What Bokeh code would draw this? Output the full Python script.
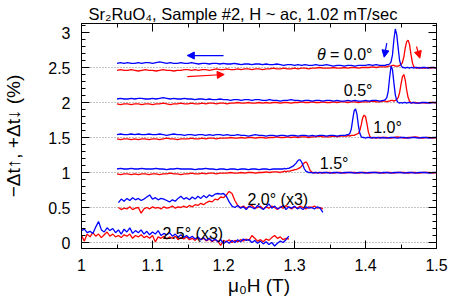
import numpy as np
from bokeh.plotting import figure
from bokeh.models import (Range1d, LinearAxis, FixedTicker, Label, Arrow,
                          NormalHead, PrintfTickFormatter, Title)
from bokeh.embed import file_html
from bokeh.resources import INLINE

# ---------------- data ----------------
# field sweep grids (T)
X00 = np.round(np.concatenate([np.arange(1.050, 1.4251, 0.005), np.arange(1.428, 1.4721, 0.002), np.arange(1.476, 1.5001, 0.004)]), 4)
X05 = np.round(np.concatenate([np.arange(1.050, 1.4251, 0.005), np.arange(1.426, 1.4701, 0.002), np.arange(1.475, 1.5001, 0.005)]), 4)
X10 = np.round(np.concatenate([np.arange(1.050, 1.3701, 0.005), np.arange(1.372, 1.4201, 0.002), np.arange(1.425, 1.5001, 0.005)]), 4)
X15 = np.round(np.concatenate([np.arange(1.050, 1.2801, 0.005), np.arange(1.282, 1.3401, 0.002), np.arange(1.345, 1.5001, 0.005)]), 4)
X20 = np.round(np.arange(1.052, 1.3401, 0.004), 4)
X25 = np.round(np.arange(1.000, 1.2921, 0.004), 4)

# theta = 0.0 deg (offset 2.5)
B00 = [2.56, 2.57, 2.56, 2.57, 2.56, 2.56, 2.57, 2.56, 2.57, 2.57,
       2.56, 2.57, 2.58, 2.57, 2.56, 2.57, 2.56, 2.56, 2.57, 2.56,
       2.56, 2.57, 2.56, 2.55, 2.56, 2.56, 2.55, 2.56, 2.56, 2.55,
       2.56, 2.55, 2.55, 2.56, 2.55, 2.54, 2.55, 2.55, 2.54, 2.55,
       2.55, 2.54, 2.55, 2.54, 2.54, 2.55, 2.54, 2.53, 2.54, 2.54,
       2.53, 2.54, 2.53, 2.54, 2.53, 2.53, 2.54, 2.53, 2.53, 2.54,
       2.53, 2.52, 2.53, 2.53, 2.52, 2.53, 2.53, 2.52, 2.53, 2.53,
       2.53, 2.54, 2.53, 2.54, 2.53, 2.53,
       2.53, 2.54, 2.54, 2.55, 2.58, 2.68, 2.90, 3.05, 2.97, 2.78,
       2.60, 2.53, 2.50, 2.50, 2.49, 2.50, 2.50, 2.49, 2.50, 2.50,
       2.49, 2.50, 2.50,
       2.49, 2.50, 2.50, 2.49, 2.50, 2.50, 2.49]
R00 = [2.46, 2.47, 2.46, 2.46, 2.47, 2.46, 2.45, 2.46, 2.47, 2.46,
       2.46, 2.45, 2.46, 2.47, 2.46, 2.46, 2.45, 2.46, 2.46, 2.47,
       2.47, 2.46, 2.47, 2.46, 2.47, 2.47, 2.46, 2.47, 2.48, 2.47,
       2.47, 2.48, 2.47, 2.47, 2.48, 2.47, 2.48, 2.48, 2.47, 2.48,
       2.48, 2.47, 2.48, 2.48, 2.49, 2.48, 2.48, 2.49, 2.48, 2.48,
       2.49, 2.48, 2.49, 2.49, 2.48, 2.49, 2.49, 2.50, 2.49, 2.49,
       2.49, 2.50, 2.49, 2.49, 2.50, 2.49, 2.50, 2.50, 2.49, 2.50,
       2.50, 2.50, 2.51, 2.50, 2.51, 2.51,
       2.51, 2.51, 2.52, 2.52, 2.52, 2.53, 2.53, 2.52, 2.52, 2.52,
       2.53, 2.54, 2.57, 2.65, 2.78, 2.87, 2.89, 2.83, 2.69, 2.57,
       2.51, 2.50, 2.49,
       2.50, 2.49, 2.49, 2.50, 2.49, 2.50, 2.49]

# theta = 0.5 deg (offset 2.0)
B05 = [2.05, 2.06, 2.05, 2.05, 2.06, 2.05, 2.06, 2.06, 2.05, 2.05,
       2.06, 2.05, 2.06, 2.07, 2.06, 2.05, 2.06, 2.05, 2.05, 2.06,
       2.05, 2.05, 2.04, 2.05, 2.05, 2.04, 2.05, 2.04, 2.04, 2.05,
       2.04, 2.04, 2.03, 2.04, 2.04, 2.03, 2.04, 2.04, 2.03, 2.04,
       2.04, 2.03, 2.03, 2.04, 2.03, 2.03, 2.02, 2.03, 2.03, 2.04,
       2.03, 2.03, 2.02, 2.03, 2.03, 2.02, 2.03, 2.03, 2.02, 2.03,
       2.03, 2.02, 2.03, 2.02, 2.02, 2.03, 2.02, 2.03, 2.02, 2.02,
       2.03, 2.02, 2.03, 2.03, 2.02, 2.03,
       2.03, 2.04, 2.07, 2.16, 2.36, 2.52, 2.47, 2.28, 2.11, 2.03,
       2.00, 1.99, 2.00, 1.99, 2.00, 2.00, 1.99, 2.00, 2.00, 1.99,
       2.00, 2.00, 1.99,
       1.99, 2.00, 2.00, 1.99, 2.00, 2.00]
R05 = [1.98, 1.97, 1.98, 1.98, 1.97, 1.98, 1.98, 1.97, 1.98, 1.98,
       1.97, 1.98, 1.98, 1.99, 1.98, 1.97, 1.98, 1.98, 1.99, 1.98,
       1.98, 1.99, 1.98, 1.98, 1.99, 1.98, 1.99, 1.99, 1.98, 1.99,
       1.99, 1.98, 1.99, 1.99, 2.00, 1.99, 1.99, 2.00, 1.99, 1.99,
       2.00, 1.99, 2.00, 1.99, 2.00, 2.00, 1.99, 2.00, 2.00, 1.99,
       2.00, 2.00, 2.01, 2.00, 2.00, 2.01, 2.00, 2.00, 2.01, 2.00,
       2.00, 2.01, 2.00, 2.01, 2.01, 2.00, 2.01, 2.01, 2.00, 2.01,
       2.01, 2.01, 2.02, 2.01, 2.01, 2.02,
       2.02, 2.02, 2.01, 2.02, 2.02, 2.03, 2.03, 2.02, 2.03, 2.04,
       2.07, 2.14, 2.26, 2.37, 2.40, 2.32, 2.18, 2.07, 2.02, 2.00,
       1.99, 2.00, 2.00,
       1.99, 2.00, 1.99, 2.00, 2.00, 1.99]

# theta = 1.0 deg (offset 1.5)
B10 = [1.54, 1.55, 1.54, 1.54, 1.55, 1.54, 1.55, 1.54, 1.54, 1.55,
       1.54, 1.54, 1.55, 1.54, 1.53, 1.54, 1.55, 1.54, 1.54, 1.53,
       1.54, 1.54, 1.53, 1.54, 1.54, 1.53, 1.54, 1.53, 1.54, 1.54,
       1.53, 1.54, 1.53, 1.53, 1.54, 1.53, 1.53, 1.52, 1.53, 1.54,
       1.53, 1.53, 1.52, 1.53, 1.53, 1.52, 1.53, 1.53, 1.52, 1.53,
       1.53, 1.52, 1.53, 1.53, 1.52, 1.53, 1.52, 1.53, 1.53, 1.52,
       1.53, 1.53, 1.52, 1.53, 1.53,
       1.53, 1.54, 1.54, 1.56, 1.62, 1.76, 1.88, 1.91, 1.83, 1.67,
       1.56, 1.51, 1.50, 1.50, 1.49, 1.50, 1.50, 1.50, 1.49, 1.50,
       1.50, 1.49, 1.50, 1.50, 1.49,
       1.50, 1.49, 1.50, 1.50, 1.49, 1.50, 1.50, 1.49,
       1.50, 1.50, 1.49, 1.50, 1.50, 1.49, 1.50, 1.50]
R10 = [1.48, 1.47, 1.48, 1.48, 1.47, 1.48, 1.47, 1.48, 1.48, 1.47,
       1.48, 1.48, 1.47, 1.48, 1.49, 1.48, 1.48, 1.47, 1.48, 1.48,
       1.48, 1.49, 1.48, 1.48, 1.49, 1.48, 1.49, 1.49, 1.48, 1.49,
       1.49, 1.49, 1.50, 1.49, 1.49, 1.50, 1.49, 1.50, 1.50, 1.49,
       1.50, 1.50, 1.49, 1.50, 1.50, 1.51, 1.50, 1.50, 1.51, 1.50,
       1.51, 1.50, 1.51, 1.51, 1.50, 1.51, 1.51, 1.52, 1.51, 1.51,
       1.51, 1.52, 1.51, 1.52, 1.52,
       1.52, 1.52, 1.53, 1.52, 1.53, 1.53, 1.53, 1.54, 1.55, 1.56,
       1.60, 1.68, 1.78, 1.82, 1.80, 1.70, 1.58, 1.52, 1.50, 1.49,
       1.50, 1.50, 1.49, 1.50, 1.50,
       1.50, 1.50, 1.49, 1.50, 1.51, 1.50, 1.49, 1.50,
       1.50, 1.51, 1.50, 1.49, 1.50, 1.50, 1.49, 1.50]

# theta = 1.5 deg (offset 1.0)
B15 = [1.05, 1.06, 1.05, 1.05, 1.06, 1.05, 1.05, 1.06, 1.05, 1.05,
       1.05, 1.06, 1.05, 1.05, 1.04, 1.05, 1.05, 1.06, 1.05, 1.05,
       1.05, 1.05, 1.04, 1.05, 1.05, 1.06, 1.05, 1.05, 1.04, 1.05,
       1.05, 1.04, 1.05, 1.05, 1.04, 1.05, 1.05, 1.04, 1.05, 1.05,
       1.04, 1.05, 1.05, 1.04, 1.05, 1.05, 1.05,
       1.05, 1.05, 1.06, 1.05, 1.06, 1.06, 1.07, 1.08, 1.09, 1.11,
       1.13, 1.16, 1.18, 1.18, 1.15, 1.10, 1.05, 1.02, 1.01, 1.00,
       1.00, 1.00, 0.99, 1.00, 1.00, 0.99, 1.00, 1.00, 0.99, 1.00,
       1.00, 0.99, 1.00, 1.00, 0.99, 1.00, 1.00, 1.00,
       0.99, 1.00, 1.00, 0.99, 1.00, 1.00, 1.00, 0.99,
       1.00, 1.00, 0.99, 1.00, 1.00, 1.00, 0.99, 1.00,
       1.00, 0.99, 1.00, 1.00, 1.00, 0.99, 1.00, 1.00]
R15 = [0.98, 0.97, 0.98, 0.98, 0.97, 0.98, 0.97, 0.98, 0.98, 0.97,
       0.98, 0.98, 0.97, 0.98, 0.98, 0.99, 0.98, 0.98, 0.97, 0.98,
       0.98, 0.99, 0.98, 0.98, 0.99, 0.98, 0.99, 0.99, 0.98, 0.99,
       0.99, 0.99, 1.00, 0.99, 0.99, 1.00, 0.99, 1.00, 1.00, 0.99,
       1.00, 1.00, 1.01, 1.00, 1.01, 1.01, 1.00,
       1.01, 1.01, 1.02, 1.01, 1.02, 1.02, 1.02, 1.03, 1.03, 1.04,
       1.04, 1.05, 1.06, 1.07, 1.09, 1.12, 1.14, 1.15, 1.13, 1.08,
       1.03, 1.01, 1.00, 0.99, 1.00, 1.00, 0.99, 1.00, 1.00, 0.99,
       1.00, 1.00, 0.99, 1.00, 1.00, 0.99, 1.00, 1.00,
       1.00, 0.99, 1.00, 1.00, 0.99, 1.00, 1.00, 1.00,
       0.99, 1.00, 1.00, 0.99, 1.00, 1.00, 1.00, 0.99,
       1.00, 1.00, 0.99, 1.00, 1.00, 1.00, 0.99, 1.00]

# theta = 2.0 deg, x3 (offset 0.5)
B20 = [0.57, 0.62, 0.59, 0.63, 0.60, 0.64, 0.61, 0.63, 0.60, 0.62,
       0.65, 0.68, 0.62, 0.64, 0.61, 0.63, 0.62, 0.60, 0.58, 0.61,
       0.59, 0.63, 0.66, 0.62, 0.64, 0.61, 0.65, 0.62, 0.66, 0.63,
       0.67, 0.64, 0.68, 0.66, 0.69, 0.70, 0.69, 0.70, 0.66, 0.58,
       0.52, 0.50, 0.53, 0.49, 0.51, 0.47, 0.52, 0.50, 0.48, 0.53,
       0.50, 0.47, 0.51, 0.55, 0.49, 0.52, 0.48, 0.50, 0.53, 0.47,
       0.51, 0.49, 0.52, 0.48, 0.50, 0.47, 0.51, 0.49, 0.50, 0.48,
       0.51, 0.49, 0.43]
R20 = [0.50, 0.47, 0.49, 0.48, 0.51, 0.47, 0.49, 0.50, 0.42, 0.48,
       0.50, 0.48, 0.51, 0.49, 0.50, 0.48, 0.51, 0.49, 0.50, 0.52,
       0.49, 0.51, 0.50, 0.52, 0.50, 0.53, 0.51, 0.54, 0.53, 0.56,
       0.54, 0.57, 0.59, 0.58, 0.62, 0.61, 0.65, 0.64, 0.68, 0.73,
       0.70, 0.60, 0.53, 0.50, 0.52, 0.49, 0.51, 0.53, 0.49, 0.50,
       0.52, 0.48, 0.51, 0.49, 0.52, 0.50, 0.47, 0.51, 0.49, 0.53,
       0.50, 0.48, 0.51, 0.49, 0.52, 0.50, 0.48, 0.51, 0.50, 0.52,
       0.49, 0.50, 0.48]

# theta = 2.5 deg, x3 (offset 0)
B25 = [0.17, 0.19, 0.14, 0.16, 0.13, 0.22, 0.30, 0.18, 0.15, 0.21,
       0.17, 0.20, 0.14, 0.18, 0.12, 0.19, 0.15, 0.21, 0.13, 0.17,
       0.14, 0.18, 0.12, 0.16, 0.11, 0.15, 0.12, 0.17, 0.10, 0.13,
       0.11, 0.14, 0.09, 0.12, 0.08, 0.11, 0.07, 0.10, 0.06, 0.09,
       0.05, 0.08, 0.04, 0.07, 0.03, 0.06, 0.02, 0.05, 0.01, 0.04,
       -0.02, 0.02, -0.01, 0.03, 0.00, 0.04, 0.01, 0.05, 0.03, 0.04,
       0.00, 0.03, -0.01, 0.02, -0.02, 0.01, -0.03, 0.00, -0.05, -0.01,
       0.02, 0.00, 0.04, 0.09]
R25 = [0.10, 0.02, 0.12, 0.08, 0.14, 0.09, 0.12, 0.07, 0.11, 0.15,
       0.09, 0.12, 0.08, 0.10, 0.07, 0.11, 0.09, 0.12, 0.06, 0.10,
       0.08, 0.11, 0.07, 0.09, 0.06, 0.10, 0.01, 0.08, 0.06, 0.09,
       0.05, 0.08, 0.06, 0.09, 0.04, 0.07, 0.05, 0.08, 0.04, 0.06,
       0.03, 0.07, 0.04, 0.06, 0.02, 0.05, 0.01, 0.04, 0.02, -0.04,
       0.03, 0.01, 0.04, 0.00, 0.03, 0.01, 0.04, 0.02, 0.05, 0.03,
       0.10, 0.06, 0.02, 0.04, 0.01, 0.05, 0.03, 0.07, 0.10, 0.06,
       0.08, 0.04, 0.06, 0.05]

CURVES = [(X00, R00, B00), (X05, R05, B05), (X10, R10, B10),
          (X15, R15, B15), (X20, R20, B20), (X25, R25, B25)]

X_TICKS = [1.0, 1.1, 1.2, 1.3, 1.4, 1.5]
X_MINOR = [1.05, 1.15, 1.25, 1.35, 1.45]
Y_TICKS = [0, 0.5, 1, 1.5, 2, 2.5, 3]
GUIDE_LEVELS = [0, 0.5, 1, 1.5, 2, 2.5]

TITLE_TEXT = "Sr\u2082RuO\u2084, Sample #2, H ~ ac, 1.02 mT/sec"
X_LABEL = "\u03bc\u2080H (T)"
Y_LABEL = "\u2212\u0394t\u2191, +\u0394t\u2193 (%)"

# sweep-direction arrows (data units): x0, y0, x1, y1, colour
ARROWS = [(1.200, 2.671, 1.149, 2.671, "blue"),
          (1.149, 2.371, 1.201, 2.400, "red"),
          (1.430, 2.847, 1.4263, 2.647, "blue"),
          (1.4718, 2.800, 1.4765, 2.633, "red")]

BLUE = "#0000ff"
RED = "#ff0000"
FONT = "Liberation Sans"

# ---------------- figure ----------------
# frame occupies picture pixels x 79..434, y 23..248
Y_RANGE = ((242 - 248) / 70.0, (242 - 23) / 70.0)
p = figure(frame_width=355, frame_height=225, title=None,
           output_backend="svg", toolbar_location=None,
           x_range=Range1d(1.0, 1.5), y_range=Range1d(*Y_RANGE),
           min_border_left=79, min_border_right=26, min_border_top=23,
           min_border_bottom=54, background_fill_color="white",
           border_fill_color="white")

p.outline_line_color = "black"
p.outline_line_width = 1
p.xgrid.visible = False
p.ygrid.ticker = FixedTicker(ticks=GUIDE_LEVELS)
p.ygrid.grid_line_color = "#888888"
p.ygrid.grid_line_dash = "1 2"
p.ygrid.grid_line_width = 1

y_minor = [round(v, 2) for v in np.arange(0.0, 3.11, 0.1) if round(v * 10) % 5 != 0]
xt = FixedTicker(ticks=X_TICKS, minor_ticks=X_MINOR)
yt = FixedTicker(ticks=Y_TICKS, minor_ticks=y_minor)


def style_axis(ax, show_labels):
    ax.axis_line_color = "black"
    ax.major_tick_line_color = "black"
    ax.minor_tick_line_color = "black"
    ax.major_tick_in = 8
    ax.major_tick_out = 0
    ax.minor_tick_in = 4
    ax.minor_tick_out = 0
    ax.formatter = PrintfTickFormatter(format="%g")
    if show_labels:
        ax.major_label_text_font = FONT
        ax.major_label_text_font_size = "16px"
        ax.major_label_text_color = "black"
        ax.axis_label_text_font = FONT
        ax.axis_label_text_font_size = "19px"
        ax.axis_label_text_font_style = "normal"
        ax.axis_label_text_color = "black"
    else:
        ax.major_label_text_font_size = "1px"
        ax.major_label_text_color = None
        ax.major_label_standoff = 0


p.xaxis.ticker = xt
p.yaxis.ticker = yt
style_axis(p.xaxis[0], True)
style_axis(p.yaxis[0], True)
p.xaxis.major_label_standoff = 10
p.yaxis.major_label_standoff = 11
p.xaxis.axis_label = X_LABEL
p.xaxis.axis_label_standoff = 1
p.yaxis.axis_label = Y_LABEL
p.yaxis.axis_label_standoff = 21

top = LinearAxis(ticker=xt)
style_axis(top, False)
p.add_layout(top, "above")
right = LinearAxis(ticker=yt)
style_axis(right, False)
p.add_layout(right, "right")

p.add_layout(Title(text=TITLE_TEXT, align="left", offset=7, standoff=1,
                   text_font=FONT, text_font_size="16.5px",
                   text_font_style="normal", text_color="black"), "above")

for xs, rs, bs in CURVES:
    assert len(xs) == len(rs) == len(bs), (len(xs), len(rs), len(bs))
    p.line(xs, rs, line_color=RED, line_width=1.3)
    p.line(xs, bs, line_color=BLUE, line_width=1.3)

for x0, y0, x1, y1, c in ARROWS:
    col = BLUE if c == "blue" else RED
    p.add_layout(Arrow(x_start=x0, y_start=y0, x_end=x1, y_end=y1,
                       line_color=col, line_width=1.2,
                       end=NormalHead(size=7, fill_color=col, line_color=col, line_width=1)))

# ---------------- in-frame annotations ----------------
WID = {' ': 278, '=': 584, '.': 278, '°': 400, 'θ': 556}


def tw(s, size):
    return sum(WID.get(ch, 556) for ch in s) * size / 1000.0


def X(px):  # picture px -> data x
    return 1.0 + (px - 79) / 710.0


def Y(py):  # picture px -> data y
    return (242 - py) / 70.0


def lab(x, y, txt, size, style="normal", align="left"):
    p.add_layout(Label(x=x, y=y, text=txt, text_font=FONT,
                       text_font_size=f"{size}px", text_font_style=style,
                       text_color="black", text_align=align,
                       text_baseline="alphabetic"))


rest0 = " = 0.0°"
lab(X(370), Y(54.3), rest0.strip(), 16, align="right")
lab(X(370 - tw(rest0, 16)), Y(54.3), "θ", 16, "italic", align="right")
lab(X(370), Y(90), "0.5°", 16, align="right")
lab(X(370.7), Y(126.7), "1.0°", 16)
lab(X(317.3), Y(162.7), "1.5°", 16)
lab(X(245), Y(198.5), "2.0° (x3)", 16)
lab(X(160), Y(233), "2.5° (x3)", 16)

open("out.html", "w").write(file_html(p, INLINE))
